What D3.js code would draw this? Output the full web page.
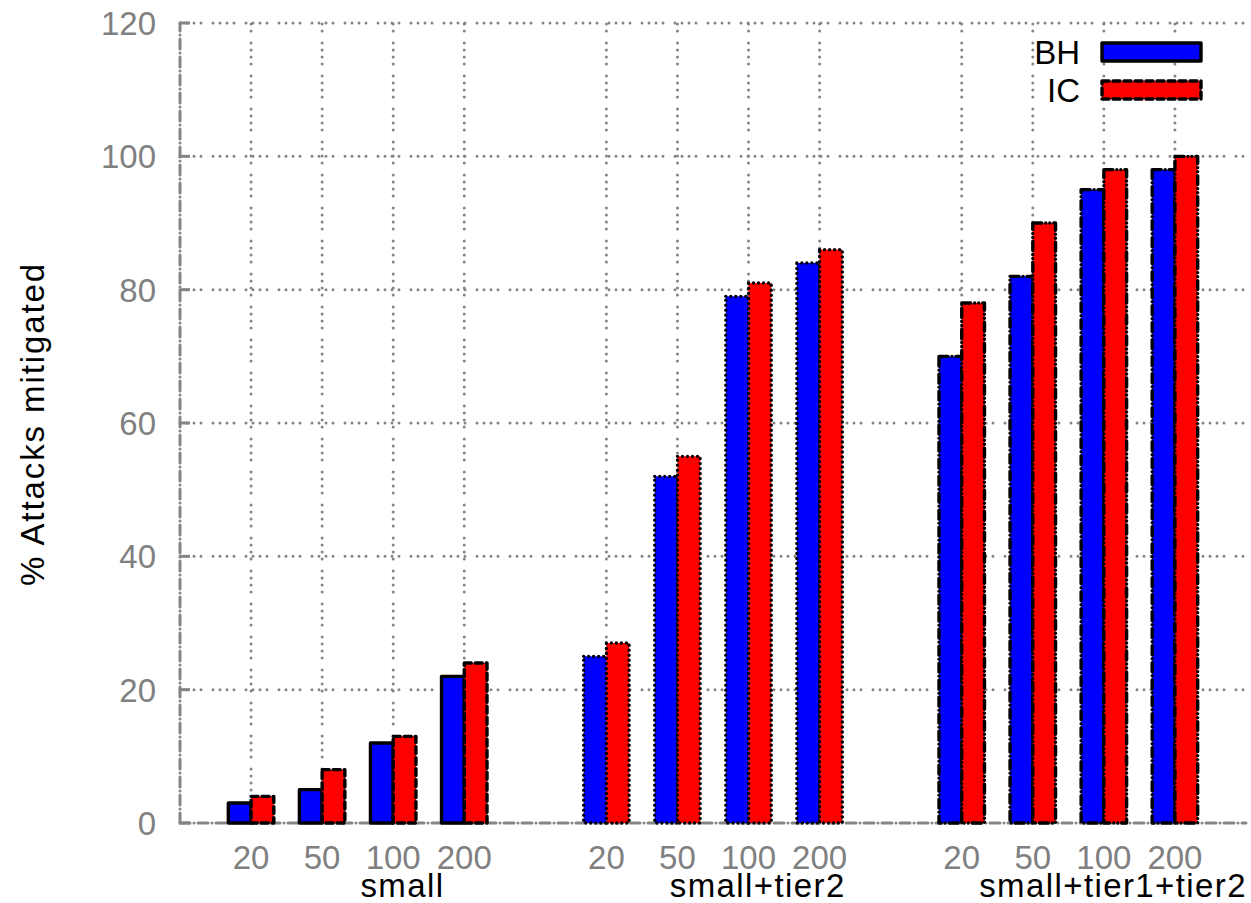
<!DOCTYPE html>
<html>
<head>
<meta charset="utf-8">
<script src="https://cdn.jsdelivr.net/npm/d3@7"></script>
<style>
  html, body { margin: 0; padding: 0; background: #fff; }
  svg text { font-family: "Liberation Sans", Arial, Helvetica, sans-serif; }
</style>
</head>
<body>
<svg id="chart" width="1251" height="903"></svg>
<script>
// Cluster labels, per-bar sizes and the two series
const groups = ["small", "small+tier2", "small+tier1+tier2"];
const sizes = ["20", "50", "100", "200"];
const seriesNames = ["BH", "IC"];
const bhValues = [
  [3, 5, 12, 22],
  [25, 52, 79, 84],
  [70, 82, 95, 98]
];
const icValues = [
  [4, 8, 13, 24],
  [27, 55, 81, 86],
  [78, 90, 98, 100]
];
const yTicks = [0, 20, 40, 60, 80, 100, 120];

const svg = d3.select("#chart");
const plot = { left: 180, right: 1246, top: 23, bottom: 823 };

const x = d3.scaleLinear().domain([-1, 14]).range([plot.left, plot.right]);
const y = d3.scaleLinear().domain([0, 120]).range([plot.bottom, plot.top]);

const gridGray = "#858585";
const labelGray = "#808080";
const dotted = "0,7,0,7,0,7,0,12";
const fontSize = 33;

// flatten into bar records: slot position = group*5 + index (one empty slot between clusters)
const bars = [];
groups.forEach((g, gi) => {
  sizes.forEach((s, si) => {
    const pos = gi * 5 + si;
    bars.push({ group: gi, size: s, pos, series: 0, value: bhValues[gi][si] });
    bars.push({ group: gi, size: s, pos, series: 1, value: icValues[gi][si] });
  });
});
const positions = [];
groups.forEach((g, gi) => sizes.forEach((s, si) => positions.push({ pos: gi * 5 + si, label: s })));

// horizontal grid
const gridG = svg.append("g");
gridG.selectAll("line.h").data(yTicks.filter(t => t > 0)).join("line")
  .attr("x1", plot.left).attr("x2", plot.right)
  .attr("y1", d => y(d)).attr("y2", d => y(d))
  .attr("stroke", gridGray).attr("stroke-width", 3)
  .attr("stroke-linecap", "round").attr("stroke-dasharray", dotted);
// vertical grid at each bar slot
gridG.selectAll("line.v").data(positions).join("line")
  .attr("x1", d => x(d.pos)).attr("x2", d => x(d.pos))
  .attr("y1", plot.bottom).attr("y2", plot.top)
  .attr("stroke", gridGray).attr("stroke-width", 3)
  .attr("stroke-linecap", "round").attr("stroke-dasharray", dotted);

// axis lines (left + bottom), gray dash-dot
const axisDash = "10,4,0,4";
svg.append("line").attr("x1", plot.left).attr("x2", plot.left)
  .attr("y1", plot.bottom).attr("y2", plot.top)
  .attr("stroke", gridGray).attr("stroke-width", 3)
  .attr("stroke-linecap", "round").attr("stroke-dasharray", axisDash);
svg.append("line").attr("x1", plot.left).attr("x2", plot.right)
  .attr("y1", plot.bottom).attr("y2", plot.bottom)
  .attr("stroke", gridGray).attr("stroke-width", 3)
  .attr("stroke-linecap", "round").attr("stroke-dasharray", axisDash);
// inward ticks on the y axis
svg.append("g").selectAll("line").data(yTicks).join("line")
  .attr("x1", plot.left).attr("x2", plot.left + 10)
  .attr("y1", d => y(d)).attr("y2", d => y(d))
  .attr("stroke", gridGray).attr("stroke-width", 3);

// bar outline patterns per cluster and series
const outline = [
  ["", "7,4"],
  ["0,5", "0,5"],
  ["9,4,0,4", "9,4,0,4,0,4"]
];
const fills = ["#0000ff", "#ff0000"];
const barW = 0.32;

svg.append("g").selectAll("rect").data(bars).join("rect")
  .attr("x", d => x(d.pos + (d.series === 0 ? -barW : 0)))
  .attr("width", x(barW) - x(0))
  .attr("y", d => y(d.value))
  .attr("height", d => y(0) - y(d.value))
  .attr("fill", d => fills[d.series])
  .attr("stroke", "#000").attr("stroke-width", 3.4)
  .attr("stroke-linecap", "round").attr("stroke-linejoin", "round")
  .attr("stroke-dasharray", d => outline[d.group][d.series] || null);

// y tick labels
svg.append("g").selectAll("text").data(yTicks).join("text")
  .attr("x", 156).attr("y", d => y(d))
  .attr("dy", "0.36em")
  .attr("text-anchor", "end")
  .attr("fill", labelGray)
  .attr("font-size", fontSize)
  .text(d => d);

// x tick labels
svg.append("g").selectAll("text").data(positions).join("text")
  .attr("x", d => x(d.pos)).attr("y", 869)
  .attr("text-anchor", "middle")
  .attr("fill", labelGray)
  .attr("font-size", fontSize)
  .text(d => d.label);

// cluster titles
svg.append("g").selectAll("text").data(groups).join("text")
  .attr("x", (d, i) => x(i * 5 + 1.5 + 0.63)).attr("y", 897)
  .attr("text-anchor", "middle")
  .attr("fill", "#000")
  .attr("font-size", fontSize)
  .attr("letter-spacing", 1.4)
  .text(d => d);

// y axis title
svg.append("text")
  .attr("transform", "translate(44,424) rotate(-90)")
  .attr("text-anchor", "middle")
  .attr("fill", "#000")
  .attr("font-size", fontSize)
  .attr("letter-spacing", 1.9)
  .text("% Attacks mitigated");

// legend
const legend = svg.append("g");
seriesNames.forEach((name, i) => {
  const cy = 52 + i * 38;
  legend.append("text").attr("x", 1080).attr("y", cy).attr("dy", "0.36em")
    .attr("text-anchor", "end").attr("fill", "#000").attr("font-size", fontSize).text(name);
  legend.append("rect").attr("x", 1102).attr("y", cy - 9).attr("width", 99).attr("height", 18)
    .attr("fill", fills[i]).attr("stroke", "#000").attr("stroke-width", 3.4)
    .attr("stroke-linecap", "round").attr("stroke-linejoin", "round")
    .attr("stroke-dasharray", i === 0 ? null : "7,4");
});
</script>
</body>
</html>
